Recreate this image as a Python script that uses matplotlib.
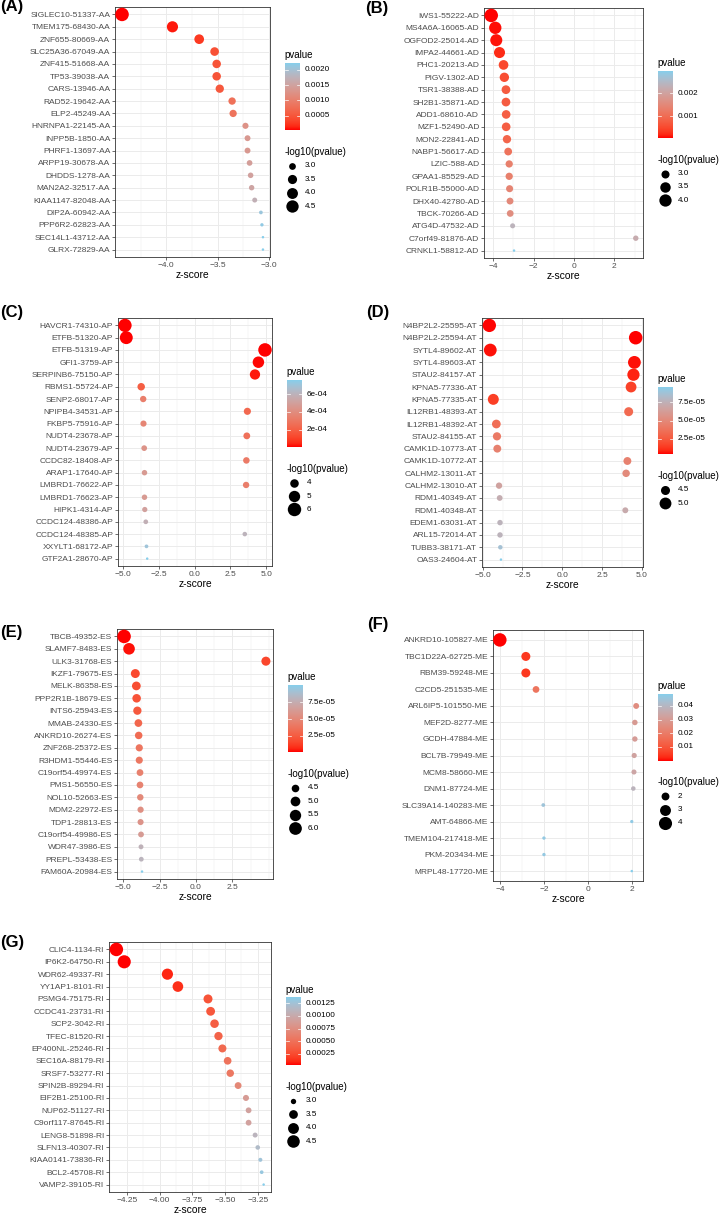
import numpy as np
import matplotlib
matplotlib.use("Agg")
import matplotlib.pyplot as plt
from matplotlib.colors import LinearSegmentedColormap
from matplotlib.ticker import FixedLocator, MultipleLocator

plt.rcParams['font.family'] = ['Liberation Sans', 'DejaVu Sans']

# ---------------- data ----------------
genes_a = ["SIGLEC10-51337-AA", "TMEM175-68430-AA", "ZNF655-80669-AA", "SLC25A36-67049-AA",
           "ZNF415-51668-AA", "TP53-39038-AA", "CARS-13946-AA", "RAD52-19642-AA", "ELP2-45249-AA",
           "HNRNPA1-22145-AA", "INPP5B-1850-AA", "PHRF1-13697-AA", "ARPP19-30678-AA",
           "DHDDS-1278-AA", "MAN2A2-32517-AA", "KIAA1147-82048-AA", "DIP2A-60942-AA",
           "PPP6R2-62823-AA", "SEC14L1-43712-AA", "GLRX-72829-AA"]
z_a = [-4.43, -3.94, -3.68, -3.53, -3.51, -3.51, -3.48, -3.36, -3.35, -3.23,
       -3.21, -3.21, -3.19, -3.18, -3.17, -3.14, -3.08, -3.07, -3.06, -3.06]
p_a = [1.1e-5, 8.2e-5, 2.3e-4, 4.2e-4, 4.5e-4, 4.5e-4, 5.0e-4, 7.8e-4, 8.1e-4, 1.24e-3,
       1.33e-3, 1.33e-3, 1.42e-3, 1.47e-3, 1.52e-3, 1.69e-3, 2.07e-3, 2.14e-3, 2.21e-3, 2.21e-3]

genes_b = ["IWS1-55222-AD", "MS4A6A-16065-AD", "OGFOD2-25014-AD", "IMPA2-44661-AD",
           "PHC1-20213-AD", "PIGV-1302-AD", "TSR1-38388-AD", "SH2B1-35871-AD", "ADD1-68610-AD",
           "MZF1-52490-AD", "MON2-22841-AD", "NABP1-56617-AD", "LZIC-588-AD", "GPAA1-85529-AD",
           "POLR1B-55000-AD", "DHX40-42780-AD", "TBCK-70266-AD", "ATG4D-47532-AD",
           "C7orf49-81876-AD", "CRNKL1-58812-AD"]
z_b = [-4.10, -3.90, -3.85, -3.69, -3.49, -3.45, -3.37, -3.37, -3.36, -3.36,
       -3.32, -3.26, -3.21, -3.21, -3.19, -3.17, -3.16, -3.04, 3.06, -2.97]
p_b = [4.1e-5, 9.6e-5, 1.18e-4, 2.24e-4, 4.8e-4, 5.6e-4, 7.5e-4, 7.5e-4, 7.8e-4, 7.8e-4,
       9.0e-4, 1.11e-3, 1.33e-3, 1.33e-3, 1.42e-3, 1.52e-3, 1.58e-3, 2.37e-3, 2.21e-3, 2.98e-3]

genes_c = ["HAVCR1-74310-AP", "ETFB-51320-AP", "ETFB-51319-AP", "GFI1-3759-AP",
           "SERPINB6-75150-AP", "RBMS1-55724-AP", "SENP2-68017-AP", "NPIPB4-34531-AP",
           "FKBP5-75916-AP", "NUDT4-23678-AP", "NUDT4-23679-AP", "CCDC82-18408-AP",
           "ARAP1-17640-AP", "LMBRD1-76622-AP", "LMBRD1-76623-AP", "HIPK1-4314-AP",
           "CCDC124-48386-AP", "CCDC124-48385-AP", "XXYLT1-68172-AP", "GTF2A1-28670-AP"]
z_c = [-4.86, -4.77, 4.91, 4.45, 4.21, -3.73, -3.59, 3.68, -3.57, 3.64,
       -3.52, 3.61, -3.50, 3.59, -3.50, -3.48, -3.41, 3.50, -3.36, -3.31]
p_c = [1.2e-6, 1.8e-6, 9.1e-7, 8.6e-6, 2.6e-5, 1.9e-4, 3.3e-4, 2.3e-4, 3.6e-4, 2.7e-4,
       4.3e-4, 3.1e-4, 4.65e-4, 3.3e-4, 4.65e-4, 5.0e-4, 5.8e-4, 6.0e-4, 7.0e-4, 7.6e-4]

genes_d = ["N4BP2L2-25595-AT", "N4BP2L2-25594-AT", "SYTL4-89602-AT", "SYTL4-89603-AT",
           "STAU2-84157-AT", "KPNA5-77336-AT", "KPNA5-77335-AT", "IL12RB1-48393-AT",
           "IL12RB1-48392-AT", "STAU2-84155-AT", "CAMK1D-10773-AT", "CAMK1D-10772-AT",
           "CALHM2-13011-AT", "CALHM2-13010-AT", "RDM1-40349-AT", "RDM1-40348-AT",
           "EDEM1-63031-AT", "ARL15-72014-AT", "TUBB3-38171-AT", "OAS3-24604-AT"]
z_d = [-4.58, 4.60, -4.52, 4.52, 4.46, 4.31, -4.33, 4.16, -4.14, -4.10,
       -4.08, 4.08, 4.00, -3.97, -3.93, 3.95, -3.91, -3.91, -3.89, -3.85]
p_d = [4.6e-6, 4.2e-6, 6.2e-6, 6.2e-6, 8.2e-6, 1.6e-5, 1.5e-5, 3.2e-5, 3.5e-5, 4.1e-5,
       4.5e-5, 4.5e-5, 5.0e-5, 6.5e-5, 7.2e-5, 7.0e-5, 7.6e-5, 7.6e-5, 8.6e-5, 9.5e-5]

genes_e = ["TBCB-49352-ES", "SLAMF7-8483-ES", "ULK3-31768-ES", "IKZF1-79675-ES",
           "MELK-86358-ES", "PPP2R1B-18679-ES", "INTS6-25943-ES", "MMAB-24330-ES",
           "ANKRD10-26274-ES", "ZNF268-25372-ES", "R3HDM1-55446-ES", "C19orf54-49974-ES",
           "PMS1-56550-ES", "NOL10-52663-ES", "MDM2-22972-ES", "TDP1-28813-ES",
           "C19orf54-49986-ES", "WDR47-3986-ES", "PREPL-53438-ES", "FAM60A-20984-ES"]
z_e = [-4.93, -4.59, 4.79, -4.16, -4.09, -4.07, -4.02, -3.95, -3.93, -3.89,
       -3.89, -3.84, -3.84, -3.82, -3.80, -3.80, -3.77, -3.77, -3.75, -3.70]
p_e = [4.8e-7, 2.6e-6, 1.5e-5, 1.6e-5, 1.8e-5, 2.0e-5, 2.3e-5, 3.0e-5, 3.3e-5, 3.8e-5,
       3.9e-5, 4.5e-5, 4.6e-5, 5.0e-5, 5.4e-5, 5.7e-5, 6.2e-5, 7.8e-5, 8.0e-5, 1.0e-4]

genes_f = ["ANKRD10-105827-ME", "TBC1D22A-62725-ME", "RBM39-59248-ME", "C2CD5-251535-ME",
           "ARL6IP5-101550-ME", "MEF2D-8277-ME", "GCDH-47884-ME", "BCL7B-79949-ME",
           "MCM8-58660-ME", "DNM1-87724-ME", "SLC39A14-140283-ME", "AMT-64866-ME",
           "TMEM104-217418-ME", "PKM-203434-ME", "MRPL48-17720-ME"]
z_f = [-4.00, -2.82, -2.82, -2.36, 2.18, 2.12, 2.12, 2.09, 2.08, 2.05, -2.03, 1.98, -2.00, -2.00, 1.98]
p_f = [6.3e-5, 4.8e-3, 4.8e-3, 1.83e-2, 2.6e-2, 3.0e-2, 3.1e-2, 3.3e-2, 3.4e-2, 3.9e-2,
       4.5e-2, 4.75e-2, 4.7e-2, 4.7e-2, 4.9e-2]

genes_g = ["CLIC4-1134-RI", "IP6K2-64750-RI", "WDR62-49337-RI", "YY1AP1-8101-RI",
           "PSMG4-75175-RI", "CCDC41-23731-RI", "SCP2-3042-RI", "TFEC-81520-RI",
           "EP400NL-25246-RI", "SEC16A-88179-RI", "SRSF7-53277-RI", "SPIN2B-89294-RI",
           "EIF2B1-25100-RI", "NUP62-51127-RI", "C9orf117-87645-RI", "LENG8-51898-RI",
           "SLFN13-40307-RI", "KIAA0141-73836-RI", "BCL2-45708-RI", "VAMP2-39105-RI"]
z_g = [-4.33, -4.27, -3.94, -3.86, -3.63, -3.61, -3.58, -3.55, -3.52, -3.48,
       -3.46, -3.40, -3.34, -3.32, -3.32, -3.27, -3.25, -3.23, -3.22, -3.205]
p_g = [1.5e-5, 2.0e-5, 8.2e-5, 1.13e-4, 2.83e-4, 3.06e-4, 3.43e-4, 3.85e-4, 4.3e-4, 5.0e-4,
       5.4e-4, 6.7e-4, 8.4e-4, 9.0e-4, 9.0e-4, 1.08e-3, 1.15e-3, 1.24e-3, 1.28e-3, 1.35e-3]

# axis ticks and legend breaks
xticks_a = [-4.0, -3.5, -3.0]
xticks_b = [-4, -2, 0, 2]
xticks_c = [-5.0, -2.5, 0.0, 2.5, 5.0]
xticks_d = [-5.0, -2.5, 0.0, 2.5, 5.0]
xticks_e = [-5.0, -2.5, 0.0, 2.5]
xticks_f = [-4, -2, 0, 2]
xticks_g = [-4.25, -4.00, -3.75, -3.50, -3.25]

pbreaks_a = [0.0005, 0.0010, 0.0015, 0.0020]
plabels_a = ["0.0005", "0.0010", "0.0015", "0.0020"]
pbreaks_b = [0.001, 0.002]
plabels_b = ["0.001", "0.002"]
pbreaks_c = [2e-4, 4e-4, 6e-4]
plabels_c = ["2e-04", "4e-04", "6e-04"]
pbreaks_d = [2.5e-5, 5.0e-5, 7.5e-5]
plabels_d = ["2.5e-05", "5.0e-05", "7.5e-05"]
pbreaks_e = [2.5e-5, 5.0e-5, 7.5e-5]
plabels_e = ["2.5e-05", "5.0e-05", "7.5e-05"]
pbreaks_f = [0.01, 0.02, 0.03, 0.04]
plabels_f = ["0.01", "0.02", "0.03", "0.04"]
pbreaks_g = [0.00025, 0.00050, 0.00075, 0.00100, 0.00125]
plabels_g = ["0.00025", "0.00050", "0.00075", "0.00100", "0.00125"]

sbreaks_a = [3.0, 3.5, 4.0, 4.5]
sbreaks_b = [3.0, 3.5, 4.0]
sbreaks_c = [4, 5, 6]
sbreaks_d = [4.5, 5.0]
sbreaks_e = [4.5, 5.0, 5.5, 6.0]
sbreaks_f = [2, 3, 4]
sbreaks_g = [3.0, 3.5, 4.0, 4.5]

panels = [
    ("(A)", genes_a, z_a, p_a, xticks_a, "%.1f", 0.25, pbreaks_a, plabels_a, sbreaks_a, "%.1f"),
    ("(B)", genes_b, z_b, p_b, xticks_b, "%d", 1.0, pbreaks_b, plabels_b, sbreaks_b, "%.1f"),
    ("(C)", genes_c, z_c, p_c, xticks_c, "%.1f", 1.25, pbreaks_c, plabels_c, sbreaks_c, "%d"),
    ("(D)", genes_d, z_d, p_d, xticks_d, "%.1f", 1.25, pbreaks_d, plabels_d, sbreaks_d, "%.1f"),
    ("(E)", genes_e, z_e, p_e, xticks_e, "%.1f", 1.25, pbreaks_e, plabels_e, sbreaks_e, "%.1f"),
    ("(F)", genes_f, z_f, p_f, xticks_f, "%d", 1.0, pbreaks_f, plabels_f, sbreaks_f, "%d"),
    ("(G)", genes_g, z_g, p_g, xticks_g, "%.2f", 0.125, pbreaks_g, plabels_g, sbreaks_g, "%.1f"),
]

# layout in pixels: plot box (left, top, right, bottom) and panel tag position
W, H = 720, 1213
boxes = [(115, 7, 270, 257), (484, 8, 643, 258), (118, 318, 272, 566), (482, 318, 643, 567),
         (117, 629, 273, 879), (493, 630, 643, 881), (109, 942, 271, 1192)]
tag_pos = [(0, 7), (365, 8), (0, 313), (366, 312), (0, 632), (367, 625), (0, 942)]


# ggplot-like red -> skyblue gradient interpolated in Lab space
def lab_to_rgb(L, a, b):
    fy = (L + 16) / 116
    fx = fy + a / 500
    fz = fy - b / 200
    d = 6 / 29
    finv = lambda t: t ** 3 if t > d else 3 * d * d * (t - 4 / 29)
    xyz = np.array([0.95047 * finv(fx), finv(fy), 1.08883 * finv(fz)])
    M = np.array([[3.2406, -1.5372, -0.4986], [-0.9689, 1.8758, 0.0415], [0.0557, -0.2040, 1.0570]])
    lin = np.clip(M @ xyz, 0, 1)
    rgb = np.where(lin <= 0.0031308, 12.92 * lin, 1.055 * lin ** (1 / 2.4) - 0.055)
    return np.clip(rgb, 0, 1)


red_lab = (53.24, 80.09, 67.20)
sky_lab = (79.20, -14.85, -21.30)
grad_cols = [lab_to_rgb(*[r + (s - r) * t for r, s in zip(red_lab, sky_lab)]) for t in np.linspace(0, 1, 21)]
cmap = LinearSegmentedColormap.from_list("red_sky", grad_cols)


def dot_size(v, vmin, vmax):
    t = np.clip((np.asarray(v, float) - vmin) / (vmax - vmin), 0, 1)
    d = 2.5 + 11.0 * np.sqrt(t)          # diameter in pixels
    return (d * 0.72) ** 2               # marker area in pt^2


fig = plt.figure(figsize=(7.2, 12.13), dpi=100)
ov = fig.add_axes([0, 0, 1, 1])
ov.axis("off")

grid_col = "#EBEBEB"
dark = "#333333"

for (tag, genes, zs, ps, xt, xfmt, minor, pb, pl, sb, sfmt), (l, t, r, b), (tx, ty) in zip(panels, boxes, tag_pos):
    ax = fig.add_axes([l / W, 1 - b / H, (r - l) / W, (b - t) / H])
    n = len(genes)
    y = np.arange(n)[::-1]
    z = np.array(zs)
    p = np.array(ps)
    v = -np.log10(p)
    vmin, vmax = v.min(), v.max()
    pmin, pmax = p.min(), p.max()

    ax.scatter(z, y, s=dot_size(v, vmin, vmax), c=p, cmap=cmap, vmin=pmin, vmax=pmax,
               linewidths=0, zorder=3)
    pad = 0.05 * (z.max() - z.min())
    ax.set_xlim(z.min() - pad, z.max() + pad)
    ax.set_ylim(-0.6, n - 0.4)
    ax.set_yticks(y)
    ax.set_yticklabels(genes)
    ax.xaxis.set_major_locator(FixedLocator(xt))
    ax.set_xticklabels([(xfmt % val).replace("-", "\u2212") for val in xt])
    ax.xaxis.set_minor_locator(MultipleLocator(minor))
    ax.set_axisbelow(True)
    ax.grid(True, which="major", color=grid_col, lw=0.7)
    ax.grid(True, which="minor", axis="x", color=grid_col, lw=0.35)
    ax.tick_params(which="minor", length=0)
    ax.tick_params(which="major", length=2.2, width=0.5, color=dark, labelsize=6.0,
                   labelcolor="#4D4D4D", pad=1.2)
    for sp in ax.spines.values():
        sp.set_color(dark)
        sp.set_linewidth(0.6)
    ax.set_xlabel("z-score", fontsize=7.4, labelpad=0.6)

    ov.text(tx, ty, tag, fontsize=12, fontweight="bold", va="center", ha="left")

    # legends
    lx = r + 14.5
    ty0 = (t + b) / 2 - (49.8 + 6.7 * len(sb))
    ov.text(lx, ty0, "pvalue", fontsize=7.0, va="center", ha="left")
    y0, y1 = ty0 + 8, ty0 + 75
    ov.imshow(np.linspace(0, 1, 256).reshape(-1, 1), cmap=cmap, extent=(lx, lx + 15, y1, y0),
              origin="lower", aspect="auto", interpolation="bilinear")
    for val, lab in zip(pb, pl):
        yy = y1 - (val - pmin) / (pmax - pmin) * (y1 - y0)
        ov.plot([lx, lx + 3], [yy, yy], color="white", lw=0.5)
        ov.plot([lx + 12, lx + 15], [yy, yy], color="white", lw=0.5)
        ov.text(lx + 20, yy, lab, fontsize=5.9, va="center", ha="left")
    ov.text(lx, ty0 + 96.5, "-log10(pvalue)", fontsize=7.0, va="center", ha="left")
    for k, bv in enumerate(sb):
        yy = ty0 + 110.5 + 13.4 * k
        ov.scatter([lx + 7.5], [yy], s=dot_size(bv, vmin, vmax), color="black", linewidths=0)
        ov.text(lx + 20, yy, sfmt % bv, fontsize=5.9, va="center", ha="left")

ov.set_xlim(0, W)
ov.set_ylim(H, 0)

fig.savefig("out.png", dpi=100)
